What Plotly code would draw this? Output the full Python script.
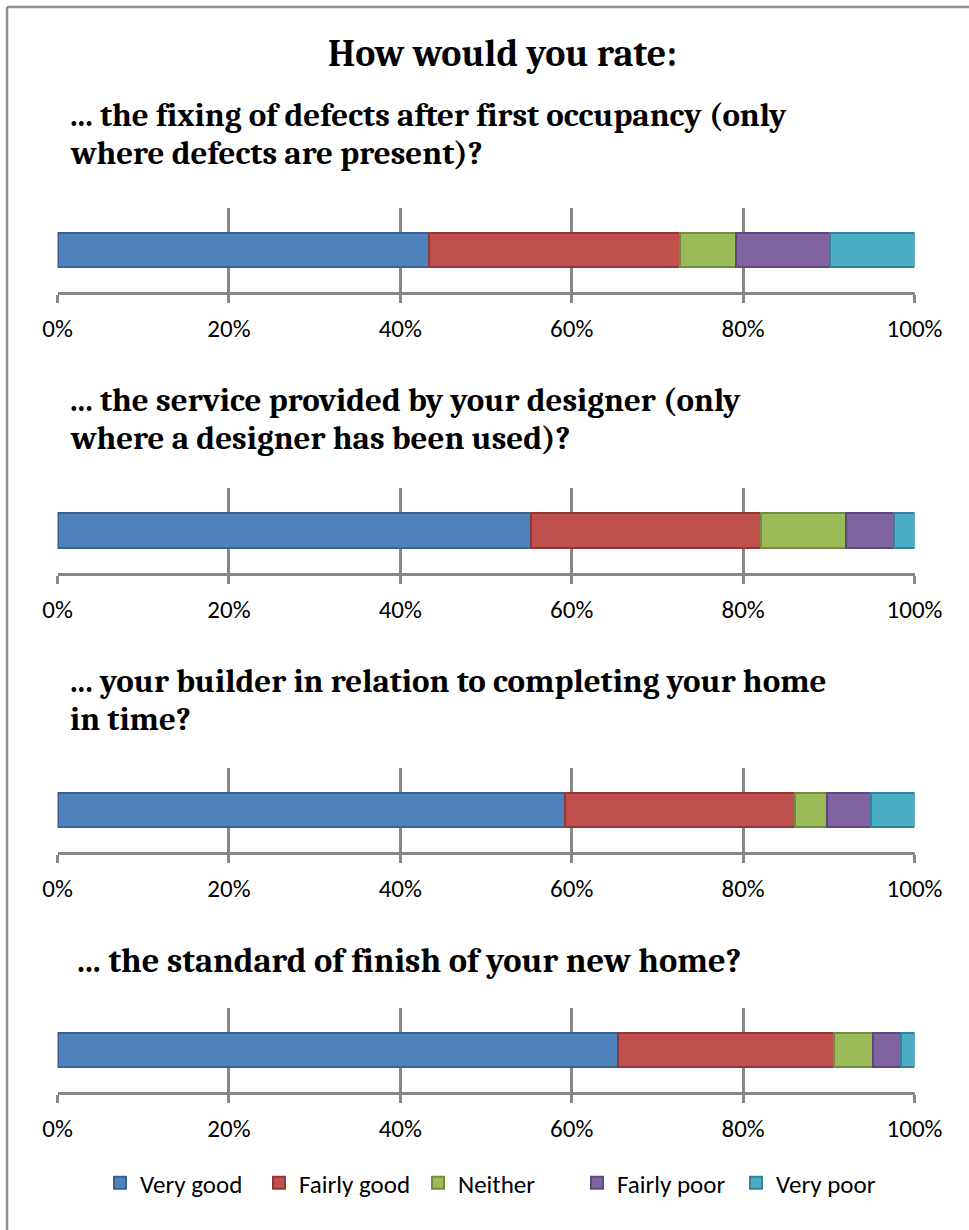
import plotly.graph_objects as go

# Survey results (percent of respondents), one row per question
questions = [
    "... the fixing of defects after first occupancy (only<br>where defects are present)?",
    "... the service provided by your designer (only<br>where a designer has been used)?",
    "... your builder in relation to completing your home<br>in time?",
    "... the standard of finish of your new home?",
]
ratings = ["Very good", "Fairly good", "Neither", "Fairly poor", "Very poor"]
very_good = [43.3, 55.2, 59.2, 65.3]
fairly_good = [29.3, 26.8, 26.8, 25.3]
neither = [6.5, 10.0, 3.7, 4.5]
fairly_poor = [11.0, 5.5, 5.2, 3.3]
very_poor = [9.9, 2.5, 5.1, 1.6]
tick_values = [0, 20, 40, 60, 80, 100]
tick_labels = ["0%", "20%", "40%", "60%", "80%", "100%"]

series = [very_good, fairly_good, neither, fairly_poor, very_poor]
fills = ["#4F81BD", "#C0504D", "#9BBB59", "#8064A2", "#4BACC6"]
edges = ["#3A6190", "#8F3A38", "#738C42", "#5E4A79", "#378196"]

W, H = 969, 1230
SERIF = "Caladea, 'DejaVu Serif Condensed', 'Liberation Serif', serif"
SANS = "Carlito, Lato, 'Liberation Sans', sans-serif"
GRID = "#878787"
LINE_STEP = 38  # pixel spacing between wrapped heading lines


def px_x(x):
    return x / W


def px_y(y):
    return 1 - y / H


# per panel: grid top, axis line, first heading line, heading left, heading size (px)
panels = [
    (208, 292, 115, 68, 33),
    (488, 573, 400, 68, 33),
    (768, 852, 681, 68, 33),
    (1008, 1092, 961, 75, 34.5),
]

fig = go.Figure()

for k in range(len(questions)):
    axis_suffix = "" if k == 0 else str(k + 1)
    for s, name in enumerate(ratings):
        fig.add_trace(go.Bar(
            x=[series[s][k]], y=[0], orientation="h", name=name,
            width=0.405,
            marker=dict(color=fills[s], line=dict(color=edges[s], width=2)),
            legendgroup=name, showlegend=(k == 0),
            xaxis="x" + axis_suffix, yaxis="y" + axis_suffix,
            hovertemplate=name + ": %{x:.1f}%<extra></extra>",
        ))

layout_axes = {}
for k, (top, bottom, _, _, _) in enumerate(panels):
    axis_suffix = "" if k == 0 else str(k + 1)
    layout_axes["xaxis" + axis_suffix] = dict(
        domain=[px_x(57.5), px_x(914.5)], range=[0, 100],
        anchor="y" + axis_suffix,
        tickvals=tick_values, ticktext=tick_labels,
        showgrid=True, gridcolor=GRID, gridwidth=3,
        showline=True, linecolor=GRID, linewidth=3,
        ticks="outside", ticklen=8, tickwidth=3, tickcolor=GRID,
        ticklabelstandoff=4,
        zeroline=False, fixedrange=True, automargin=False,
        tickfont=dict(family=SANS, size=25, color="#000000"),
    )
    layout_axes["yaxis" + axis_suffix] = dict(
        domain=[px_y(bottom), px_y(top)], range=[-0.5, 0.5],
        anchor="x" + axis_suffix,
        showgrid=False, showline=False, zeroline=False,
        showticklabels=False, ticks="", fixedrange=True, automargin=False,
    )

annotations = [dict(
    text="<b>How would you rate:</b>", x=px_x(502), y=px_y(54),
    xref="paper", yref="paper", xanchor="center", yanchor="middle",
    showarrow=False, font=dict(family=SERIF, size=38, color="#000000"),
)]
for k, (_, _, ty, tx, fs) in enumerate(panels):
    for i, line in enumerate(questions[k].split("<br>")):
        annotations.append(dict(
            text="<b>" + line + "</b>", x=px_x(tx), y=px_y(ty + i * LINE_STEP),
            xref="paper", yref="paper", xanchor="left", yanchor="middle",
            align="left", showarrow=False,
            font=dict(family=SERIF, size=fs, color="#000000"),
        ))

border = [
    dict(type="line", xref="paper", yref="paper",
         x0=px_x(7), x1=1, y0=px_y(7), y1=px_y(7),
         line=dict(color="#8C8C8C", width=2.5)),
    dict(type="line", xref="paper", yref="paper",
         x0=px_x(7), x1=px_x(7), y0=px_y(7), y1=0,
         line=dict(color="#8C8C8C", width=2.5)),
]

fig.update_layout(
    width=W, height=H, autosize=False,
    margin=dict(l=0, r=0, t=0, b=0, pad=0, autoexpand=False),
    paper_bgcolor="#FFFFFF", plot_bgcolor="#FFFFFF",
    barmode="stack", bargap=0,
    showlegend=True,
    legend=dict(
        orientation="h", x=px_x(100), y=px_y(1183),
        xanchor="left", yanchor="middle",
        font=dict(family=SANS, size=25, color="#000000"),
        itemwidth=30, entrywidth=114, entrywidthmode="pixels",
        traceorder="normal", itemclick=False, itemdoubleclick=False,
    ),
    annotations=annotations,
    shapes=border,
    **layout_axes,
)

fig.write_html("out.html")
